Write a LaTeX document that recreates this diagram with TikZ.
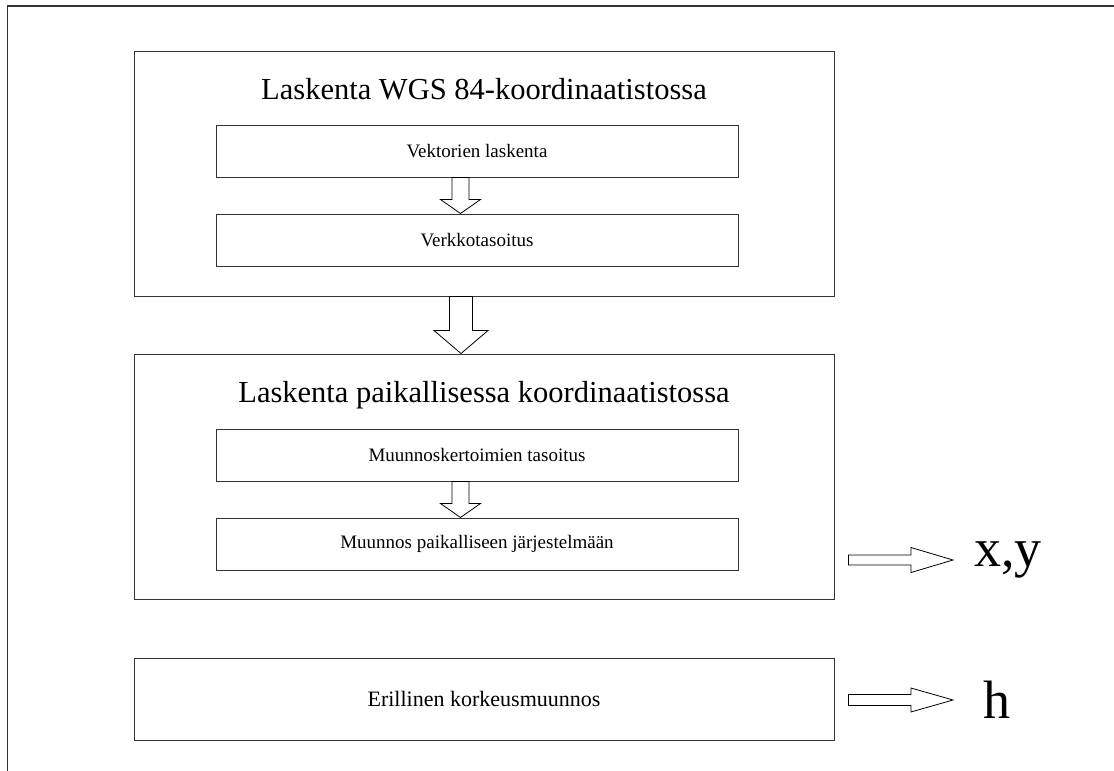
\documentclass[tikz,border=0pt]{standalone}
\usepackage{fontspec}
\setmainfont{Liberation Serif}
\usepackage{tikz}
\usetikzlibrary{calc,positioning}
\definecolor{linec}{HTML}{333333}
\tikzset{
  outer/.style={draw=linec,line width=1pt,minimum width=700pt,inner sep=0pt},
  inner/.style={draw=linec,line width=1pt,minimum width=522pt,minimum height=52pt,inner sep=0pt,font=\fontsize{19}{23}\selectfont},
  ttl/.style={font=\fontsize{30.5}{36}\selectfont,inner sep=0pt,anchor=base},
  res/.style={font=\fontsize{54}{64}\selectfont,inner sep=0pt,anchor=west},
  blk/.style={draw=black,line width=0.8pt,fill=white,line join=miter}
}
% hollow block arrows: start, tip, half shaft, half head, head length
\newcommand{\varr}[5]{\draw[blk] let \p1=(#1),\p2=(#2) in
  (\x1-#3pt,\y1)--(\x1-#3pt,\y2+#5pt)--(\x1-#4pt,\y2+#5pt)--(\x1,\y2)
  --(\x1+#4pt,\y2+#5pt)--(\x1+#3pt,\y2+#5pt)--(\x1+#3pt,\y1)--cycle;}
\newcommand{\harr}[5]{\draw[blk] let \p1=(#1),\p2=(#2) in
  (\x1,\y1+#3pt)--(\x2-#5pt,\y1+#3pt)--(\x2-#5pt,\y1+#4pt)--(\x2,\y1)
  --(\x2-#5pt,\y1-#4pt)--(\x2-#5pt,\y1-#3pt)--(\x1,\y1-#3pt)--cycle;}

\begin{document}
\begin{tikzpicture}[x=1pt,y=-1pt]
\useasboundingbox (0,0) rectangle (1114,771);
% page frame
\draw[linec,line width=1.3pt] (7.5,771) -- (7.5,6) -- (1114,6);
% WGS 84 part
\node[outer,minimum height=245pt] (wgs) at (484,173.5) {};
\node[ttl] (wgsT) at ($(wgs.north)+(0,49)$) {Laskenta WGS 84-koordinaatistossa};
\node[inner] (vek) at (477,151) {Vektorien laskenta};
\node[inner] (verk) at (477,240) {Verkkotasoitus};
% local part
\node[outer,minimum height=245pt] (loc) at (484,476.5) {};
\node[ttl] (locT) at ($(loc.north)+(0,49)$) {Laskenta paikallisessa koordinaatistossa};
\node[inner] (kert) at (477,455) {Muunnoskertoimien tasoitus};
\node[inner] (muun) at (477,544) {Muunnos paikalliseen järjestelmään};
% height part
\node[outer,minimum height=82pt,font=\fontsize{22}{26}\selectfont] (kork) at (484,699) {Erillinen korkeusmuunnos};
% results
\node[res] (xy) at (974,560) {x,y};
\node[res] (h) at (983,700) {h};
\coordinate (ax) at (461,0);
\coordinate (ax2) at (460.5,0);
\varr{vek.south -| ax2}{verk.north -| ax2}{8.5}{20}{14}
\varr{wgs.south -| ax}{loc.north -| ax}{11.5}{27}{23}
\varr{kert.south -| ax2}{muun.north -| ax2}{8.5}{20}{14}
\harr{$(loc.east |- xy.west)+(14,0)$}{$(xy.west)+(-21,0)$}{5}{12.5}{42}
\harr{$(kork.east |- h.west)+(14,0)$}{$(h.west)+(-30,0)$}{5.5}{12}{42}
\end{tikzpicture}
\end{document}
